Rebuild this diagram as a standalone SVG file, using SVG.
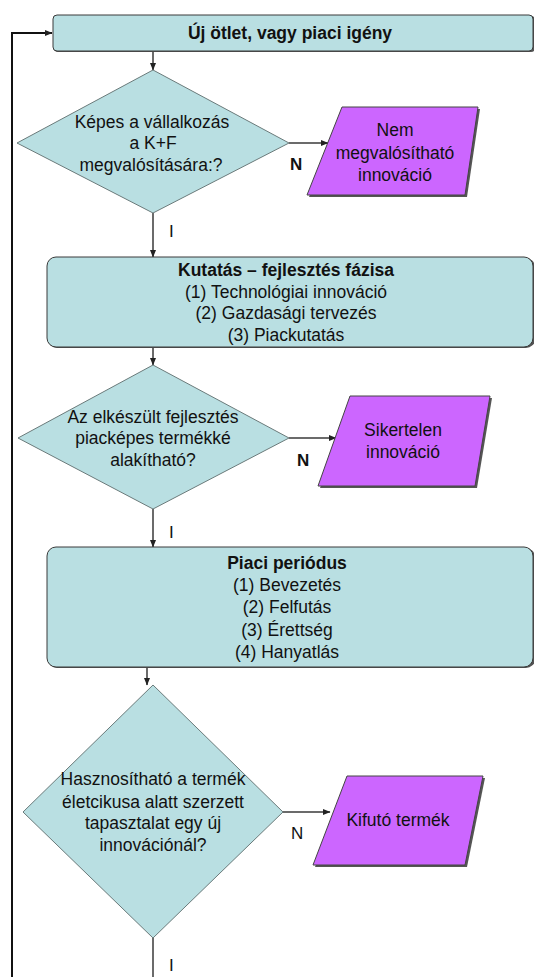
<svg xmlns="http://www.w3.org/2000/svg" width="534" height="977" viewBox="0 0 534 977">
  <defs>
    <marker id="arrow" viewBox="0 0 8 8" refX="7.5" refY="4" markerWidth="8" markerHeight="8" markerUnits="userSpaceOnUse" orient="auto">
      <path d="M0,0.8 L8,4 L0,7.2 Z" fill="#222"/>
    </marker>
    <style>
      .proc { fill: #B9DFE2; stroke: #3a3a3a; stroke-width: 1; }
      .dec { fill: #B9DFE2; stroke: #6a7a7a; stroke-width: 1; }
      .out { fill: #CC66FF; stroke: #444; stroke-width: 1; }
      .shadow { fill: #555; }
      .edge { fill: none; stroke: #3a3a3a; stroke-width: 1.5; }
      .loop { fill: none; stroke: #111; stroke-width: 2; }
      text { font-family: "Liberation Sans", Arial, sans-serif; font-size: 17.5px; fill: #111; text-anchor: middle; }
      .b { font-weight: bold; }
      .lbl { font-size: 17px; text-anchor: start; }
    </style>
  </defs>

  <!-- connectors -->
  <g id="connectors">
    <path class="loop" d="M12,977 L12,33 L52,33" marker-end="url(#arrow)"/>
    <path class="edge" d="M153,51 L153,70" marker-end="url(#arrow)"/>
    <path class="edge" d="M289,143 L328,143" marker-end="url(#arrow)"/>
    <path class="edge" d="M153,213 L153,257" marker-end="url(#arrow)"/>
    <path class="edge" d="M153,347 L153,365" marker-end="url(#arrow)"/>
    <path class="edge" d="M289,438 L336,438" marker-end="url(#arrow)"/>
    <path class="edge" d="M153,509 L153,547" marker-end="url(#arrow)"/>
    <path class="edge" d="M147,667 L147,685" marker-end="url(#arrow)"/>
    <path class="edge" d="M283,812 L330,812" marker-end="url(#arrow)"/>
    <path class="edge" d="M153,938 L153,977"/>
    <text class="lbl b" x="290" y="170">N</text>
    <text class="lbl" x="169" y="237">I</text>
    <text class="lbl b" x="297" y="466">N</text>
    <text class="lbl" x="169" y="538">I</text>
    <text class="lbl" x="291" y="839">N</text>
    <text class="lbl" x="169" y="971">I</text>
  </g>

  <!-- start node -->
  <g id="start">
    <rect x="54" y="16" width="481" height="36" rx="4" class="shadow"/>
    <rect x="53" y="15" width="480" height="36" rx="4" class="proc"/>
    <text class="b" x="290" y="39">Új ötlet, vagy piaci igény</text>
  </g>

  <!-- decision 1 -->
  <g id="dec1">
    <polygon points="153,70 289,143 153,213 17,143" class="dec"/>
    <text x="152" y="128">Képes a vállalkozás</text>
    <text x="153" y="149">a K+F</text>
    <text x="151" y="171">megvalósítására:?</text>
  </g>

  <!-- outcome 1 -->
  <g id="out1">
    <polygon points="344,109 480,109 467,197 309,197" class="shadow"/>
    <polygon points="342,107 478,107 465,195 307,195" class="out"/>
    <text x="395" y="136">Nem</text>
    <text x="395" y="159">megvalósítható</text>
    <text x="395" y="181">innováció</text>
  </g>

  <!-- R&D phase -->
  <g id="rnd">
    <rect x="48" y="258" width="487" height="90" rx="9" class="shadow"/>
    <rect x="47" y="257" width="486" height="90" rx="9" class="proc"/>
    <text class="b" x="286" y="276">Kutatás – fejlesztés fázisa</text>
    <text x="286" y="298">(1) Technológiai innováció</text>
    <text x="286" y="319">(2) Gazdasági tervezés</text>
    <text x="286" y="341">(3) Piackutatás</text>
  </g>

  <!-- decision 2 -->
  <g id="dec2">
    <polygon points="153,365 289,438 153,509 18,438" class="dec"/>
    <text x="153" y="423">Az elkészült fejlesztés</text>
    <text x="153" y="444">piacképes termékké</text>
    <text x="153" y="466">alakítható?</text>
  </g>

  <!-- outcome 2 -->
  <g id="out2">
    <polygon points="352,398 492,398 477,488 320,488" class="shadow"/>
    <polygon points="350,396 490,396 475,486 318,486" class="out"/>
    <text x="403" y="436">Sikertelen</text>
    <text x="403" y="458">innováció</text>
  </g>

  <!-- market period -->
  <g id="market">
    <rect x="48" y="548" width="487" height="120" rx="9" class="shadow"/>
    <rect x="47" y="547" width="486" height="120" rx="9" class="proc"/>
    <text class="b" x="287" y="569">Piaci periódus</text>
    <text x="287" y="591">(1) Bevezetés</text>
    <text x="287" y="613">(2) Felfutás</text>
    <text x="287" y="636">(3) Érettség</text>
    <text x="287" y="658">(4) Hanyatlás</text>
  </g>

  <!-- decision 3 -->
  <g id="dec3">
    <polygon points="153,685 283,812 153,938 23,812" class="dec"/>
    <text x="153" y="785">Hasznosítható a termék</text>
    <text x="153" y="808">életcikusa alatt szerzett</text>
    <text x="153" y="829">tapasztalat egy új</text>
    <text x="153" y="851">innovációnál?</text>
  </g>

  <!-- outcome 3 -->
  <g id="out3">
    <polygon points="349,778 485,778 467,867 315,867" class="shadow"/>
    <polygon points="347,776 483,776 465,865 313,865" class="out"/>
    <text x="398" y="826">Kifutó termék</text>
  </g>
</svg>
